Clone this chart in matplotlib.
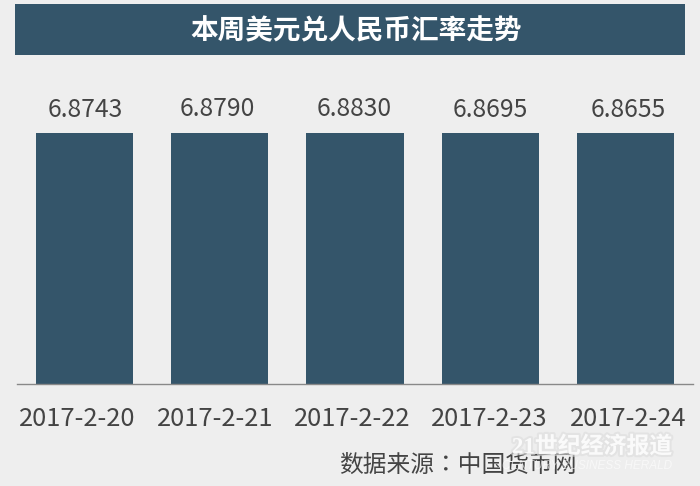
import matplotlib
matplotlib.use("Agg")
import matplotlib.pyplot as plt
import matplotlib.patheffects as pe
from matplotlib.patches import Rectangle
from matplotlib.transforms import ScaledTranslation

plt.rcParams['font.family'] = ['Noto Sans CJK SC', 'DejaVu Sans']

dates = ['2017-2-20', '2017-2-21', '2017-2-22', '2017-2-23', '2017-2-24']
rates = [6.8743, 6.8790, 6.8830, 6.8695, 6.8655]
rate_labels = ['6.8743', '6.8790', '6.8830', '6.8695', '6.8655']
title = '本周美元兑人民币汇率走势'
source = '数据来源：中国货币网'
mark_cn = '21世纪经济报道'
mark_en = 'CENTURY BUSINESS HERALD'

W, H = 700, 486
DARK = '#34556a'
BG = '#eeeeee'
TXT = '#444444'
tick_shift_px = [-7.5, -5, -3, -0.5, 2.5]
value_shift_px = [1, -2.5, -1, 0.5, 2.5]

fig = plt.figure(figsize=(W/100, H/100), dpi=100, facecolor=BG)

def fx(x): return x / W
def fy(y): return 1 - y / H

ax = fig.add_axes([fx(17), fy(383.5), (693-17)/W, (383.5-60)/H], facecolor='none')
xs = list(range(len(dates)))
ax.bar(xs, rates, width=0.72, color=DARK, linewidth=0)
ax.set_xlim(-0.5, 4.5)
ax.set_ylim(0, 6.875 * (383.5-60) / (383.5-133))
for s in ['top', 'left', 'right']:
    ax.spines[s].set_visible(False)
ax.spines['bottom'].set_color('#888888')
ax.spines['bottom'].set_linewidth(1.0)
ax.set_yticks([])
ax.set_xticks(xs)
ax.set_xticklabels(dates, fontsize=18.4, color=TXT)
ax.tick_params(axis='x', length=0, pad=16)
for lab, dx in zip(ax.get_xticklabels(), tick_shift_px):
    lab.set_transform(lab.get_transform() + ScaledTranslation(dx/100, 0, fig.dpi_scale_trans))
for x, v, lab, dx in zip(xs, rates, rate_labels, value_shift_px):
    ax.annotate(lab, (x, v), xytext=(dx*0.72, 7.5), textcoords='offset points',
                ha='center', va='bottom', fontsize=17.8, color=TXT)

fig.add_artist(Rectangle((fx(15), fy(55)), (685-15)/W, (55-4)/H,
                         transform=fig.transFigure, facecolor=DARK, linewidth=0))
fig.text(fx(356), fy(31), title, color='white', fontsize=19.9, fontweight='bold',
         ha='center', va='center')
fig.text(fx(458), fy(465), source, color=TXT, fontsize=17.1,
         family=['Noto Sans CJK TC', 'DejaVu Sans'], ha='center', va='center')
glow = [pe.withStroke(linewidth=3, foreground='#dddddd', alpha=0.6)]
fig.text(fx(672), fy(447), mark_cn, color='white', alpha=0.8, fontsize=16.5,
         fontweight='bold', family=['Liberation Serif', 'Noto Sans CJK SC'],
         ha='right', va='center', path_effects=glow)
fig.text(fx(672), fy(466), mark_en, color='white', alpha=0.6, fontsize=8.5,
         style='italic', family=['Liberation Sans'], ha='right', va='center')

fig.savefig('out.png', dpi=100, facecolor=BG)
